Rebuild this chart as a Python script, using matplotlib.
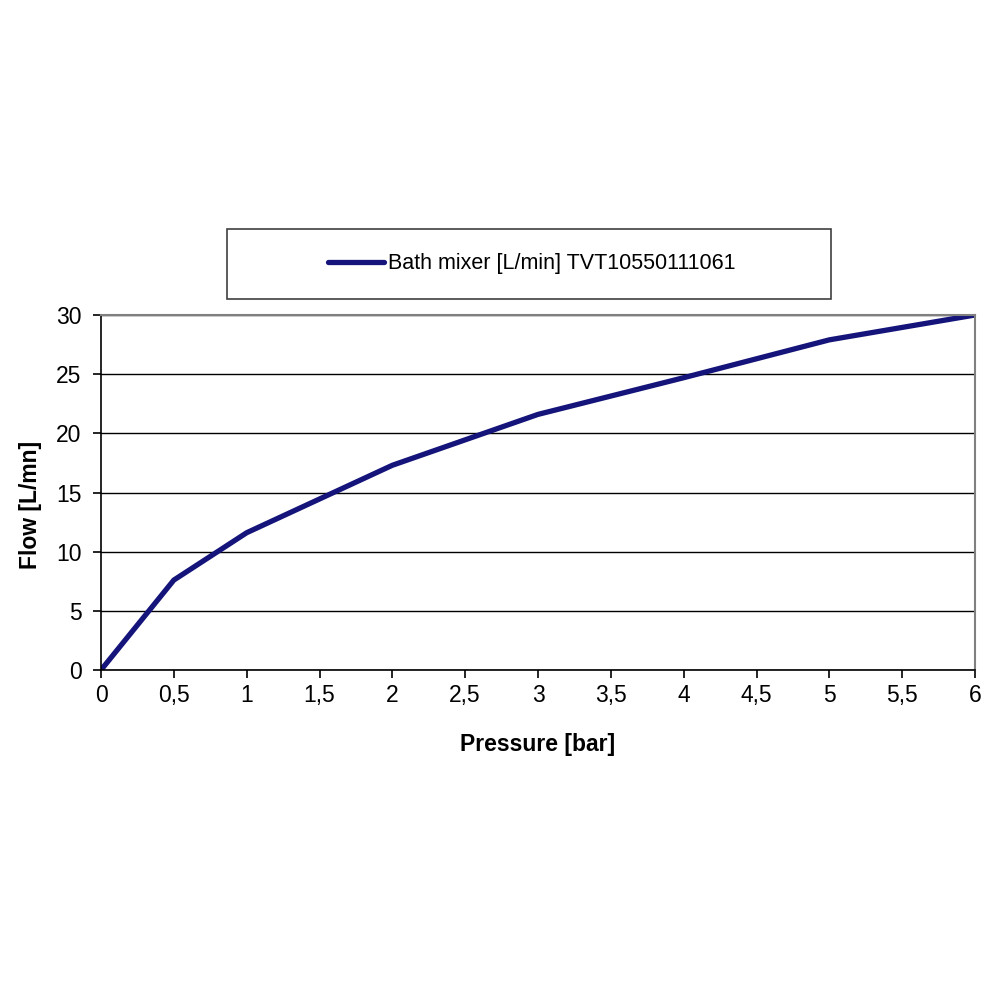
import matplotlib.pyplot as plt
from matplotlib.patches import Rectangle

# Flow curve
pressure = [0, 0.5, 1, 2, 3, 4, 5, 6]
flow = [0, 7.6, 11.6, 17.3, 21.6, 24.7, 27.9, 30]
xticks = [0, 0.5, 1, 1.5, 2, 2.5, 3, 3.5, 4, 4.5, 5, 5.5, 6]
yticks = [0, 5, 10, 15, 20, 25, 30]
serie = "Bath mixer [L/min] TVT10550111061"

plt.rcParams['font.family'] = ['Liberation Sans', 'DejaVu Sans']

fig = plt.figure(figsize=(10, 10), dpi=100)
ax = fig.add_axes([0.101, 0.33, 0.874, 0.355])

ax.plot(pressure, flow, color='#14147a', lw=3.8, solid_capstyle='round', label=serie)

ax.set_xlim(0, 6)
ax.set_ylim(0, 30)
ax.set_xticks(xticks)
ax.set_xticklabels([str(t).replace('.', ',') if t % 1 else str(int(t)) for t in xticks])
ax.set_yticks(yticks)
ax.grid(axis='y', color='black', lw=1)
ax.set_axisbelow(True)

for s in ['top', 'right']:
    ax.spines[s].set_color('#808080')
    ax.spines[s].set_linewidth(1.5)
for s in ['left', 'bottom']:
    ax.spines[s].set_color('black')
    ax.spines[s].set_linewidth(1.2)

ax.tick_params(axis='both', direction='out', length=6, width=1.2, labelsize=16.5, colors='black', pad=4)
ax.tick_params(axis='y', pad=8)

ax.set_xlabel("Pressure [bar]", fontsize=16.5, fontweight='bold', labelpad=19)
ax.set_ylabel("Flow [L/mn]", fontsize=16.5, fontweight='bold')
ax.yaxis.set_label_coords(-0.068, 0.466)

# legenda en caja aparte encima del grafico
fig.patches.append(Rectangle((0.227, 0.701), 0.604, 0.07, transform=fig.transFigure,
                             fill=False, edgecolor='#404040', lw=1.2))
fig.legend(loc='center', bbox_to_anchor=(0.532, 0.736), frameon=False, fontsize=15.5,
           handlelength=2.6, handletextpad=0.2)

fig.savefig('out.png', dpi=100, facecolor='white')
